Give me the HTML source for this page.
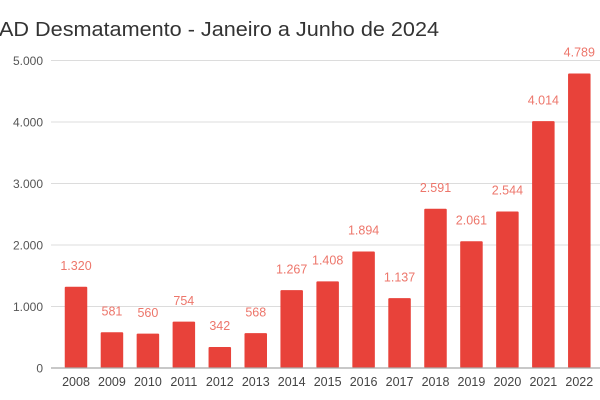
<!DOCTYPE html>
<html>
<head>
<meta charset="utf-8">
<style>
html,body{margin:0;padding:0;background:#fff;}
svg{display:block;}
text{font-family:"Liberation Sans",Arial,sans-serif;}
</style>
</head>
<body>
<svg width="600" height="400" viewBox="0 0 600 400" xmlns="http://www.w3.org/2000/svg">
<rect width="600" height="400" fill="#fff"/>
<text x="-1" y="36" font-size="20" fill="#333" textLength="440" lengthAdjust="spacingAndGlyphs">AD Desmatamento - Janeiro a Junho de 2024</text>
<g stroke="#dcdcdc" stroke-width="1">
<line x1="51" y1="60.5" x2="600" y2="60.5"/>
<line x1="51" y1="122" x2="600" y2="122"/>
<line x1="51" y1="183.5" x2="600" y2="183.5"/>
<line x1="51" y1="245" x2="600" y2="245"/>
<line x1="51" y1="306.5" x2="600" y2="306.5"/>
</g>
<g font-size="12" fill="#555" text-anchor="end">
<text x="43" y="65">5.000</text>
<text x="43" y="126.5">4.000</text>
<text x="43" y="188">3.000</text>
<text x="43" y="249.5">2.000</text>
<text x="43" y="311">1.000</text>
<text x="43" y="372.5">0</text>
</g>
<g fill="#e8423a">
<rect x="64.75" y="286.8" width="22.5" height="81.2" rx="1"/>
<rect x="100.7" y="332.3" width="22.5" height="35.7" rx="1"/>
<rect x="136.65" y="333.6" width="22.5" height="34.4" rx="1"/>
<rect x="172.6" y="321.6" width="22.5" height="46.4" rx="1"/>
<rect x="208.55" y="347" width="22.5" height="21" rx="1"/>
<rect x="244.5" y="333.1" width="22.5" height="34.9" rx="1"/>
<rect x="280.45" y="290.1" width="22.5" height="77.9" rx="1"/>
<rect x="316.4" y="281.4" width="22.5" height="86.6" rx="1"/>
<rect x="352.35" y="251.5" width="22.5" height="116.5" rx="1"/>
<rect x="388.3" y="298.1" width="22.5" height="69.9" rx="1"/>
<rect x="424.25" y="208.7" width="22.5" height="159.3" rx="1"/>
<rect x="460.2" y="241.2" width="22.5" height="126.8" rx="1"/>
<rect x="496.15" y="211.5" width="22.5" height="156.5" rx="1"/>
<rect x="532.1" y="121.1" width="22.5" height="246.9" rx="1"/>
<rect x="568.05" y="73.5" width="22.5" height="294.5" rx="1"/>
</g>
<line x1="51" y1="368" x2="600" y2="368" stroke="#a8a8a8" stroke-width="1.2"/>
<g font-size="12.5" fill="#ed766b" text-anchor="middle">
<text x="76" y="270">1.320</text>
<text x="111.95" y="315.5">581</text>
<text x="147.9" y="316.8">560</text>
<text x="183.85" y="304.8">754</text>
<text x="219.8" y="330.2">342</text>
<text x="255.75" y="316.3">568</text>
<text x="291.7" y="273.3">1.267</text>
<text x="327.65" y="264.6">1.408</text>
<text x="363.6" y="234.7">1.894</text>
<text x="399.55" y="281.3">1.137</text>
<text x="435.5" y="191.9">2.591</text>
<text x="471.45" y="224.4">2.061</text>
<text x="507.4" y="194.7">2.544</text>
<text x="543.35" y="104.3">4.014</text>
<text x="579.3" y="56.7">4.789</text>
</g>
<g font-size="12.5" fill="#444" text-anchor="middle">
<text x="76" y="386">2008</text>
<text x="111.95" y="386">2009</text>
<text x="147.9" y="386">2010</text>
<text x="183.85" y="386">2011</text>
<text x="219.8" y="386">2012</text>
<text x="255.75" y="386">2013</text>
<text x="291.7" y="386">2014</text>
<text x="327.65" y="386">2015</text>
<text x="363.6" y="386">2016</text>
<text x="399.55" y="386">2017</text>
<text x="435.5" y="386">2018</text>
<text x="471.45" y="386">2019</text>
<text x="507.4" y="386">2020</text>
<text x="543.35" y="386">2021</text>
<text x="579.3" y="386">2022</text>
</g>
</svg>
</body>
</html>
